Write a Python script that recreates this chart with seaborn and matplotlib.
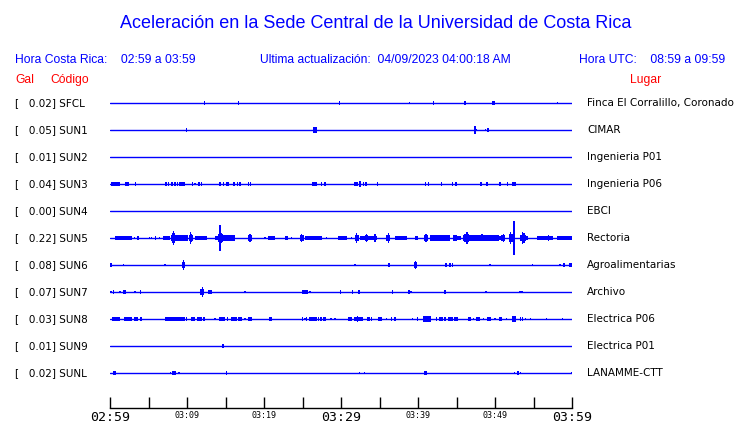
import pandas as pd
import numpy as np
import seaborn as sns
import matplotlib.pyplot as plt

# stations, top to bottom
codes = ['SFCL', 'SUN1', 'SUN2', 'SUN3', 'SUN4', 'SUN5', 'SUN6', 'SUN7', 'SUN8', 'SUN9', 'SUNL']
gals = [0.02, 0.05, 0.01, 0.04, 0.00, 0.22, 0.08, 0.07, 0.03, 0.01, 0.02]
places = ['Finca El Corralillo, Coronado', 'CIMAR', 'Ingenieria P01', 'Ingenieria P06', 'EBCI',
          'Rectoria', 'Agroalimentarias', 'Archivo', 'Electrica P06', 'Electrica P01', 'LANAMME-CTT']

tick_minutes = list(range(0, 61, 5))
tick_labels = ['02:59', '', '03:09', '', '03:19', '', '03:29', '', '03:39', '', '03:49', '', '03:59']
big_labels = ['02:59', '03:29', '03:59']

# bursts: (minute after 02:59, duration in minutes, half amplitude)
sfcl = [(12.25, 0.1, 1.3), (16.7, 0.1, 1.3), (29.8, 0.1, 1.3), (38.9, 0.1, 1.0), (42.0, 0.1, 1.3),
        (46.1, 0.3, 1.4), (49.8, 0.3, 1.4), (58.1, 0.1, 0.8)]
sun1 = [(9.9, 0.1, 1.3), (26.6, 0.6, 1.8), (26.8, 0.1, 2.3), (47.4, 0.1, 2.8), (47.6, 0.2, 1.0),
        (48.8, 0.1, 1.0), (49.1, 0.15, 1.3)]
sun2 = []
sun3 = [(0.74, 1.1, 1.5), (2.21, 0.5, 1.5), (3.33, 0.1, 1.3), (7.27, 0.1, 1.3), (7.58, 0.1, 1.3),
        (8.01, 0.3, 1.5), (8.44, 0.1, 1.3), (8.74, 0.1, 1.3), (9.35, 0.78, 1.5), (10.69, 0.1, 1.3),
        (11.04, 0.1, 0.8), (11.56, 0.15, 1.3), (11.9, 0.15, 1.3), (14.29, 0.15, 1.3), (14.72, 0.1, 1.3),
        (15.24, 0.43, 1.5), (16.06, 0.3, 1.5), (16.54, 0.1, 1.3), (16.88, 0.1, 1.3), (17.97, 0.1, 1.3),
        (18.23, 0.1, 1.3), (26.58, 0.6, 1.5), (27.49, 0.1, 1.3), (27.92, 0.1, 1.3), (31.99, 0.5, 1.5),
        (32.47, 0.1, 2.4), (32.94, 0.15, 1.3), (33.25, 0.1, 1.3), (34.76, 0.2, 1.3), (41.0, 0.2, 1.3),
        (41.34, 0.1, 1.3), (43.03, 0.1, 1.3), (44.46, 0.1, 1.3), (44.94, 0.15, 1.3), (48.18, 0.1, 1.3),
        (48.96, 0.3, 1.5), (50.65, 0.2, 1.3), (51.6, 0.1, 1.3), (52.47, 0.43, 1.5)]
sun4 = []
sun5 = [(1.08, 0.87, 1.5), (2.2, 1.2, 1.5), (3.16, 0.1, 1.0), (3.63, 0.3, 1.3), (5.1, 0.1, 1.0),
        (5.4, 0.1, 1.0), (5.92, 0.2, 1.3), (6.4, 0.1, 1.0), (7.36, 0.86, 1.7), (9.3, 1.73, 1.8),
        (8.23, 0.6, 2.2), (8.23, 0.3, 3.3), (8.23, 0.1, 4.8),
        (10.52, 0.6, 2.2), (10.52, 0.3, 3.2), (10.5, 0.1, 4.2),
        (11.8, 1.5, 1.5), (13.87, 0.45, 1.7), (15.36, 1.73, 2.0),
        (14.35, 0.6, 2.6), (14.4, 0.3, 3.6), (14.29, 0.08, 9.0),
        (18.2, 0.6, 2.0), (18.2, 0.25, 3.0),
        (20.13, 0.1, 1.0), (21.0, 0.87, 1.4), (22.95, 0.43, 1.4), (23.6, 0.1, 1.0),
        (24.89, 0.5, 2.0), (24.89, 0.2, 3.0),
        (26.4, 2.17, 1.5), (28.14, 0.1, 1.0), (30.2, 1.1, 1.6), (31.4, 0.1, 1.0),
        (32.03, 0.5, 2.2), (32.03, 0.2, 3.3), (33.55, 2.16, 1.7),
        (33.33, 0.35, 2.0), (33.33, 0.12, 2.8), (34.42, 0.35, 2.0), (34.42, 0.12, 2.8),
        (36.15, 0.5, 2.2), (36.15, 0.2, 3.3), (37.77, 1.52, 1.5), (39.83, 0.43, 1.5),
        (41.04, 0.5, 2.2), (41.04, 0.2, 3.0), (42.86, 2.6, 1.8), (44.81, 0.4, 2.3), (45.3, 0.6, 1.2),
        (48.2, 4.6, 1.9), (46.32, 0.6, 2.6), (46.32, 0.25, 4.0), (48.3, 0.3, 2.5),
        (50.76, 0.65, 1.6), (51.08, 0.5, 2.2), (51.08, 0.2, 3.0),
        (52.03, 0.5, 2.6), (52.03, 0.15, 4.2), (52.47, 0.08, 12.0),
        (53.68, 0.8, 2.4), (53.68, 0.35, 3.5), (53.6, 0.1, 4.5), (54.0, 0.65, 1.5),
        (56.5, 2.17, 1.5), (57.0, 0.1, 2.0), (59.0, 2.0, 1.5)]
sun6 = [(0.13, 0.15, 1.3), (1.73, 0.1, 1.0), (7.14, 0.1, 1.0), (9.52, 0.4, 2.2), (9.52, 0.12, 3.3),
        (31.82, 0.1, 0.8), (36.28, 0.25, 1.3), (39.7, 0.4, 2.2), (39.7, 0.12, 3.0), (43.6, 0.25, 1.3),
        (44.16, 0.1, 1.3), (44.46, 0.1, 1.3), (49.35, 0.1, 0.8), (54.85, 0.1, 1.0), (58.44, 0.1, 1.0),
        (58.96, 0.25, 1.3), (59.8, 0.35, 1.3)]
sun7 = [(0.13, 0.1, 1.0), (0.43, 0.1, 1.3), (1.3, 0.1, 1.0), (1.86, 0.35, 1.3), (3.25, 0.1, 0.8),
        (3.98, 0.1, 1.3), (12.0, 0.5, 2.2), (12.0, 0.12, 3.3), (12.99, 0.43, 1.3), (17.53, 0.1, 1.0),
        (25.32, 0.7, 1.3), (25.97, 0.1, 0.8), (29.96, 0.2, 1.3), (31.47, 0.1, 1.3), (32.34, 0.1, 1.3),
        (36.71, 0.2, 1.3), (38.83, 0.1, 1.3), (39.09, 0.1, 1.0), (43.51, 0.3, 1.3), (48.79, 0.3, 1.0),
        (53.38, 0.43, 1.0)]
sun8 = [(0.76, 1.08, 1.5), (2.38, 1.04, 1.5), (3.42, 0.52, 1.5), (4.0, 0.22, 1.3), (8.44, 2.6, 1.5),
        (9.96, 0.1, 1.3), (10.78, 0.52, 1.3), (11.56, 0.65, 1.3), (12.21, 0.1, 1.3), (13.64, 0.1, 1.0),
        (14.55, 0.78, 1.7), (15.2, 0.1, 1.3), (16.06, 0.74, 1.5), (16.93, 0.52, 1.3), (17.53, 0.1, 1.0),
        (18.18, 0.6, 1.5), (20.82, 0.35, 1.3), (25.02, 0.1, 1.3), (25.32, 0.1, 1.0), (25.54, 0.1, 1.3),
        (26.32, 1.0, 1.5), (27.06, 0.1, 1.3), (27.4, 0.1, 1.3), (27.71, 0.1, 1.3), (27.92, 0.1, 1.3),
        (28.7, 0.1, 1.0), (29.22, 0.1, 1.0), (31.17, 0.43, 1.5), (32.29, 1.17, 1.7), (32.2, 0.1, 2.2),
        (33.55, 0.43, 1.5), (33.98, 0.1, 1.3), (35.06, 0.43, 1.3), (35.93, 0.1, 1.0), (36.58, 0.1, 1.3),
        (37.01, 0.1, 1.3), (39.26, 0.1, 1.0), (39.96, 0.1, 1.3), (41.21, 1.08, 1.8), (41.0, 0.1, 2.2),
        (42.42, 0.1, 1.3), (42.99, 0.56, 1.5), (43.55, 0.3, 1.5), (44.24, 0.65, 1.5), (44.98, 0.52, 1.5),
        (46.71, 0.35, 1.3), (47.19, 0.1, 1.0), (47.75, 0.56, 1.5), (48.49, 0.1, 1.0), (49.18, 0.56, 1.5),
        (50.0, 0.1, 1.0), (50.69, 0.35, 1.3), (51.52, 0.1, 1.0), (52.47, 0.43, 1.8), (52.4, 0.1, 2.2),
        (53.29, 0.1, 1.3), (53.55, 0.1, 1.3), (53.98, 0.1, 1.0), (54.59, 0.1, 1.0), (56.67, 0.1, 1.0),
        (58.74, 0.1, 1.0)]
sun9 = [(14.68, 0.2, 1.4)]
sunl = [(0.56, 0.35, 1.4), (7.84, 0.1, 1.0), (8.31, 0.43, 1.4), (8.96, 0.1, 0.8), (15.15, 0.2, 1.4),
        (32.38, 0.1, 1.0), (33.03, 0.1, 1.0), (41.0, 0.43, 1.4), (52.51, 0.1, 1.0), (52.94, 0.25, 1.3),
        (53.29, 0.1, 1.0), (59.9, 0.1, 1.0)]
traces = [sfcl, sun1, sun2, sun3, sun4, sun5, sun6, sun7, sun8, sun9, sunl]

BLUE = '#0000ff'
ROW_PX = 27.0   # one row step on screen
AMP_PX = 1.4    # screen pixels per amplitude unit

sns.set_theme(style='white')
plt.rcParams['font.family'] = ['Liberation Sans', 'DejaVu Sans']

fig = plt.figure(figsize=(7.4, 4.23), dpi=100)
W, H = 740.0, 423.0
ax = fig.add_axes([110 / W, 1 - 408 / H, 462 / W, (408 - 90) / H])

# baselines through seaborn
base = pd.DataFrame({
    'minute': [0, 60] * len(codes),
    'row': np.repeat(np.arange(len(codes)), 2),
    'station': np.repeat(codes, 2),
})
sns.lineplot(data=base, x='minute', y='row', units='station', estimator=None,
             color=BLUE, lw=1.0, ax=ax, legend=False)

# bursts as filled bars around each baseline
for i, ev in enumerate(traces):
    if not ev:
        continue
    t = np.array([e[0] for e in ev])
    w = np.array([max(e[1], 0.14) for e in ev])
    h = np.array([e[2] for e in ev]) * AMP_PX / ROW_PX
    ax.bar(t, 2 * h, bottom=i - h, width=w, color=BLUE, linewidth=0, align='center')

n = len(codes) - 1
ax.set_xlim(0, 60)
ax.set_ylim(n + (408 - 103 - 27 * n) / ROW_PX, -(103 - 90) / ROW_PX)
ax.set_xlabel('')
ax.set_ylabel('')
ax.set_yticks([])
for s in ['top', 'left', 'right']:
    ax.spines[s].set_visible(False)
ax.spines['bottom'].set_color('black')
ax.spines['bottom'].set_linewidth(1)
ax.set_xticks(tick_minutes)
ax.set_xticklabels(tick_labels)
ax.tick_params(axis='x', direction='in', length=8, width=1, color='black', pad=2.5, bottom=True)
for lab in ax.get_xticklabels():
    lab.set_family('DejaVu Sans Mono')
    lab.set_color('black')
    lab.set_fontsize(9.5 if lab.get_text() in big_labels else 6)
    lab.set_verticalalignment('top')

def put(x, y, s, **kw):
    fig.text(x / W, 1 - y / H, s, **kw)

put(376, 23, 'Aceleración en la Sede Central de la Universidad de Costa Rica',
    color=BLUE, fontsize=13, ha='center', va='center')
put(15, 60, 'Hora Costa Rica:    02:59 a 03:59', color=BLUE, fontsize=8.7, va='center')
put(260, 60, 'Ultima actualización:  04/09/2023 04:00:18 AM', color=BLUE, fontsize=8.7, va='center')
put(725, 60, 'Hora UTC:    08:59 a 09:59', color=BLUE, fontsize=8.7, va='center', ha='right')
put(15, 80, 'Gal', color='red', fontsize=8.7, va='center')
put(50, 80, 'Código', color='red', fontsize=8.7, va='center')
put(646, 80, 'Lugar', color='red', fontsize=8.7, va='center', ha='center')

for i in range(len(codes)):
    y = 103 + 27 * i
    put(15, y, '[   %.2f] %s' % (gals[i], codes[i]), color='black', fontsize=7.5,
        family='DejaVu Sans', va='center')
    put(587, y, places[i], color='black', fontsize=7.5, family='DejaVu Sans', va='center')

fig.savefig('out.png', dpi=100, facecolor='white')
